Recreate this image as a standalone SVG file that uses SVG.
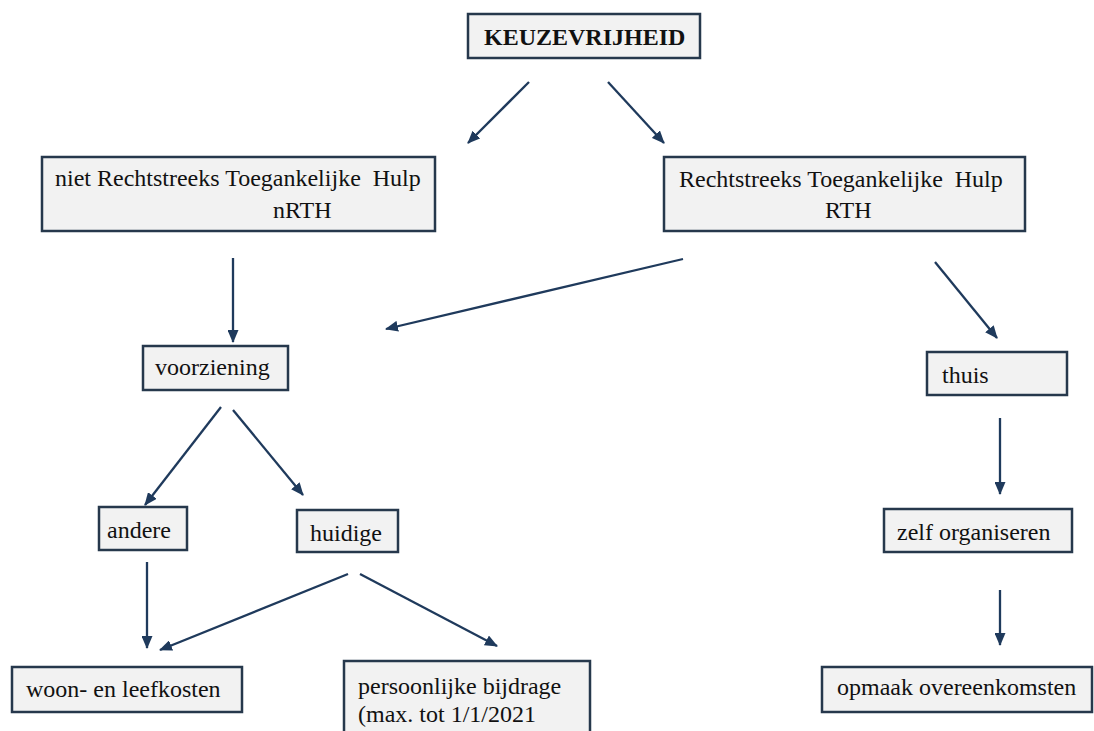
<svg xmlns="http://www.w3.org/2000/svg" width="1094" height="731" viewBox="0 0 1094 731">
<defs>
<style>
.box{fill:#f2f2f2;stroke:#26384c;stroke-width:2.5}
.t{font-family:'Liberation Serif','Times New Roman','DejaVu Serif',serif;font-size:24px;fill:#111}
.b{font-weight:bold}
.c{stroke:#1f3a5c;stroke-width:2.3;fill:none;marker-end:url(#ah)}
</style>
<marker id="ah" markerUnits="userSpaceOnUse" markerWidth="13" markerHeight="11" viewBox="0 0 13 11" refX="12" refY="5.5" orient="auto">
<path d="M0,0 L13,5.5 L0,11 z" fill="#1f3a5c"/>
</marker>
</defs>
<rect width="1094" height="731" fill="#ffffff"/>
<g id="connectors">
<line class="c" x1="529" y1="82" x2="468" y2="143"/>
<line class="c" x1="608" y1="82" x2="664" y2="143"/>
<line class="c" x1="233" y1="258" x2="233" y2="342"/>
<line class="c" x1="683" y1="259" x2="386" y2="329"/>
<line class="c" x1="935" y1="262" x2="997" y2="338"/>
<line class="c" x1="221" y1="407" x2="145" y2="505"/>
<line class="c" x1="233" y1="410" x2="303" y2="495"/>
<line class="c" x1="1000" y1="418" x2="1000" y2="494"/>
<line class="c" x1="147" y1="562" x2="147" y2="648"/>
<line class="c" x1="348" y1="574" x2="160" y2="650"/>
<line class="c" x1="360" y1="574" x2="497" y2="646"/>
<line class="c" x1="1000" y1="590" x2="1000" y2="645"/>
</g>
<g id="keuzevrijheid">
<rect class="box" x="468" y="14" width="232" height="44"/>
<text class="t b" x="484" y="45">KEUZEVRIJHEID</text>
</g>
<g id="nrth">
<rect class="box" x="42" y="157" width="393" height="74"/>
<text class="t" x="55" y="186" xml:space="preserve">niet Rechtstreeks Toegankelijke  Hulp</text>
<text class="t" x="273" y="218">nRTH</text>
</g>
<g id="rth">
<rect class="box" x="664" y="157" width="361" height="74"/>
<text class="t" x="679" y="187" xml:space="preserve">Rechtstreeks Toegankelijke  Hulp</text>
<text class="t" x="825" y="218">RTH</text>
</g>
<g id="voorziening">
<rect class="box" x="143" y="346" width="145" height="44"/>
<text class="t" x="155" y="375">voorziening</text>
</g>
<g id="thuis">
<rect class="box" x="927" y="352" width="140" height="43"/>
<text class="t" x="942" y="383">thuis</text>
</g>
<g id="andere">
<rect class="box" x="99" y="507" width="88" height="43"/>
<text class="t" x="107" y="538">andere</text>
</g>
<g id="huidige">
<rect class="box" x="297" y="510" width="101" height="42"/>
<text class="t" x="310" y="541">huidige</text>
</g>
<g id="zelf-organiseren">
<rect class="box" x="884" y="509" width="188" height="43"/>
<text class="t" x="897" y="540">zelf organiseren</text>
</g>
<g id="woon-en-leefkosten">
<rect class="box" x="12" y="667" width="230" height="45"/>
<text class="t" x="26" y="697">woon- en leefkosten</text>
</g>
<g id="persoonlijke-bijdrage">
<rect class="box" x="344" y="661" width="246" height="80"/>
<text class="t" x="358" y="694">persoonlijke bijdrage</text>
<text class="t" x="358" y="722">(max. tot 1/1/2021</text>
</g>
<g id="opmaak-overeenkomsten">
<rect class="box" x="822" y="667" width="270" height="45"/>
<text class="t" x="837" y="695">opmaak overeenkomsten</text>
</g>
</svg>
